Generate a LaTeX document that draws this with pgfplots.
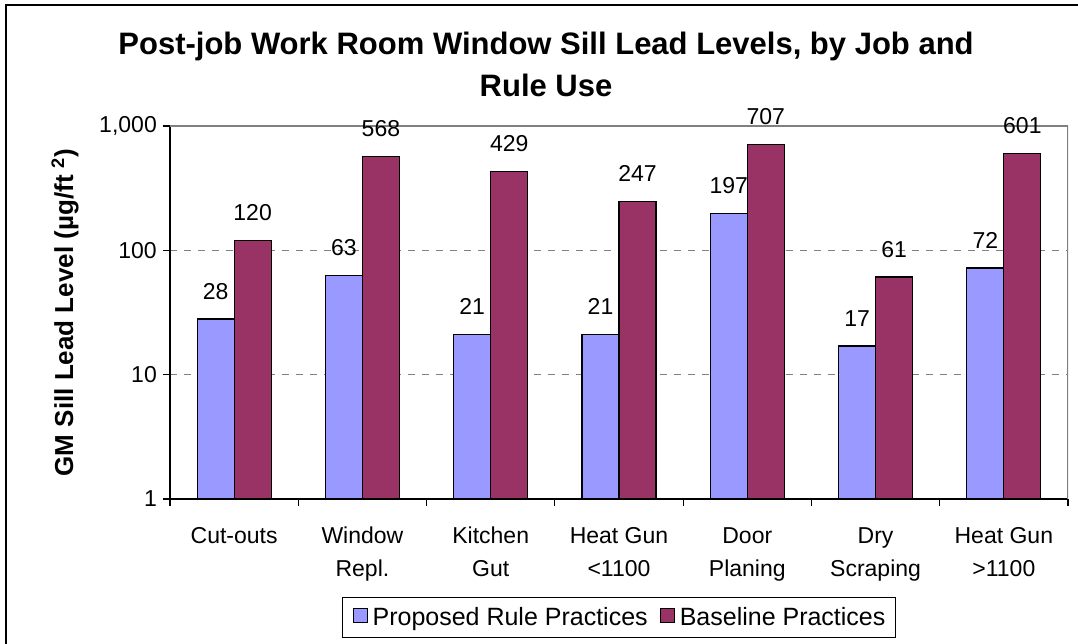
\documentclass[border=0pt]{standalone}
\usepackage{fontspec}
\setmainfont{Liberation Sans}
\usepackage{pgfplots}
\pgfplotsset{compat=1.18}
\usepackage{pgfplotstable}
\definecolor{propc}{HTML}{9999FF}
\definecolor{basec}{HTML}{993366}
\newcommand\lab{\fontsize{23}{33}\selectfont}

\pgfplotstableread{
x a b
0 28 120
1 63 568
2 21 429
3 21 247
4 197 707
5 17 61
6 72 601
}\datatable

\begin{document}
\begin{tikzpicture}[x=1pt,y=1pt]
\useasboundingbox (0,0) rectangle (1078,644);
\fill[white] (0,0) rectangle (1078,644);
\draw[black, line width=1.5pt] (6,-10) -- (6,639) -- (1100,639);
\node[font=\fontsize{31}{42}\selectfont\bfseries, anchor=base] at (546,589) {Post-job Work Room Window Sill Lead Levels, by Job and};
\node[font=\fontsize{31}{42}\selectfont\bfseries, anchor=base] at (546,547) {Rule Use};
\begin{axis}[
  at={(170pt,145pt)}, anchor=south west,
  width=898pt, height=373pt, scale only axis,
  ymode=log, ymin=1, ymax=1000,
  xmin=-0.5, xmax=6.5,
  ybar=0pt, bar width=37pt,
  axis lines*=left,
  axis line style={black, line width=1.2pt},
  ytick={1,10,100,1000}, yticklabels={1,10,100,{1,000}},
  yminorticks=false,
  ymajorgrids,
  grid style={gray, dash pattern=on 7pt off 7pt, line width=0.9pt},
  xtick={-0.5,0.5,1.5,2.5,3.5,4.5,5.5,6.5},
  xticklabels={,,,,,,,},
  extra x ticks={0,1,2,3,4,5,6},
  extra x tick labels={Cut-outs, Window\\Repl., Kitchen\\Gut, Heat Gun\\{<}1100, Door\\Planing, Dry\\Scraping, Heat Gun\\{>}1100},
  extra x tick style={major tick length=0pt},
  tick align=outside, major tick length=7pt,
  tick style={black, line width=1.1pt},
  xticklabel style={font=\lab, align=center, anchor=north, inner sep=0pt, yshift=-28pt},
  yticklabel style={font=\lab, anchor=east, inner sep=0pt, xshift=-6pt},
  every axis y label/.style={at={(axis description cs:-0.1169,0.5)}, rotate=90, anchor=center, font=\fontsize{26}{30}\selectfont\bfseries},
  ylabel={GM Sill Lead Level (µg/ft\ \textsuperscript{2})},
  point meta=explicit symbolic,
  nodes near coords,
  nodes near coords style={font=\lab, inner sep=0pt, anchor=south, yshift=19pt},
  legend style={at={(axis description cs:0.5,-0.318)}, anchor=center, draw=black, line width=0.9pt, font=\fontsize{25}{28}\selectfont, inner xsep=10pt, inner ysep=8pt, nodes={inner xsep=0pt, inner ysep=2pt}},
  legend columns=2,
  legend cell align=left,
  /tikz/every even column/.append style={column sep=12pt},
  legend image code/.code={\draw[#1, line width=0.9pt] (0pt,-5pt) rectangle (14pt,9pt); \path (19pt,0pt);},
]
\addplot[fill=propc, draw=black, line width=1.2pt] table[x=x, y=a, meta=a] {\datatable};
\addplot[fill=basec, draw=black, line width=1.2pt] table[x=x, y=b, meta=b] {\datatable};
\legend{Proposed Rule Practices, Baseline Practices}
\draw[gray, line width=1.1pt] (rel axis cs:0,1) -- (rel axis cs:1,1) -- (rel axis cs:1,0);
\end{axis}
\end{tikzpicture}
\end{document}
